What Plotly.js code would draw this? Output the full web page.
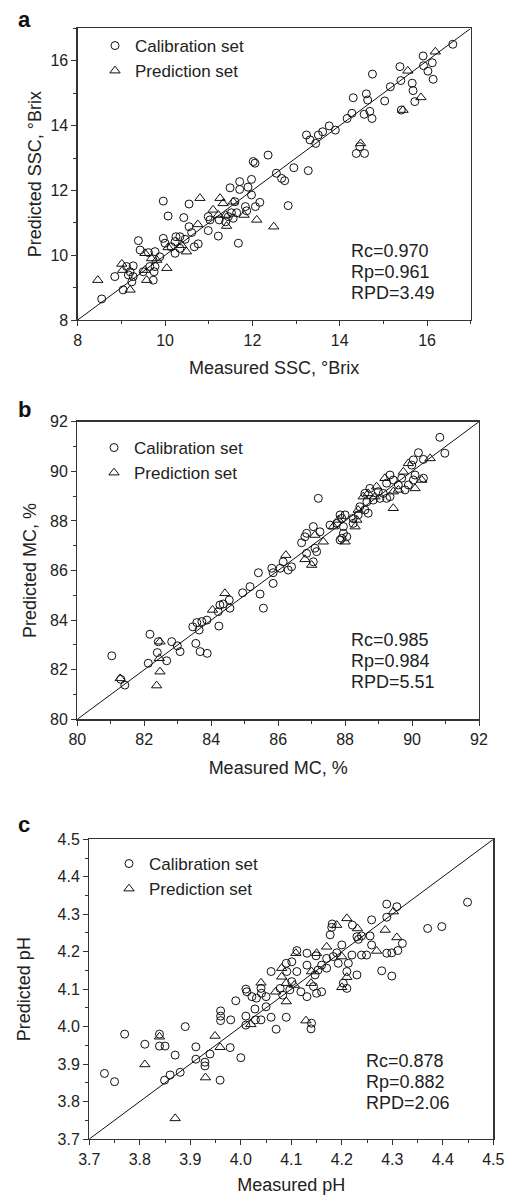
<!DOCTYPE html>
<html>
<head>
<meta charset="utf-8">
<script src="https://cdn.plot.ly/plotly-3.0.1.min.js"></script>
<style>html,body{margin:0;padding:0;background:#fff;}#chart{width:508px;height:1195px;}</style>
</head>
<body>
<div id="chart"></div>
<script>
// ---------- Panel a: SSC (°Brix) ----------
const sscCalX = [16.59,15.91,16.12,15.92,16.02,16.14,15.38,14.75,15.40,15.66,15.68,15.16,15.72,14.31,14.61,14.64,15.03,15.41,14.56,14.69,14.74,14.28,14.17,13.90,13.76,13.61,13.51,13.24,13.32,13.45,14.46,14.38,14.57,12.36,12.02,12.06,12.55,12.67,12.74,12.95,13.28,11.98,11.71,11.49,11.71,11.90,11.98,12.17,12.07,11.84,11.87,12.82,11.56,11.64,11.52,11.60,10.55,9.96,10.07,10.43,10.99,11.03,11.24,11.45,11.39,10.99,11.22,11.68,10.55,10.61,10.76,10.67,10.34,10.25,10.34,10.46,10.23,9.96,10.00,10.14,10.23,9.39,9.43,9.62,9.77,9.88,9.77,9.65,9.75,9.50,9.12,9.27,9.20,9.16,9.27,8.85,9.24,9.04,9.73,8.55];
const sscCalY = [16.51,16.15,15.94,15.85,15.68,15.43,15.82,15.59,15.39,15.31,15.08,15.20,14.74,14.86,14.98,14.79,14.76,14.48,14.35,14.44,14.22,14.38,14.22,13.86,13.99,13.81,13.71,13.71,13.56,13.45,13.35,13.14,13.14,13.09,12.89,12.84,12.53,12.37,12.30,12.70,12.61,12.34,12.27,12.08,12.03,12.10,11.86,11.63,11.50,11.50,11.37,11.53,11.14,11.31,11.31,11.65,11.58,11.67,11.21,11.16,11.19,11.09,11.09,11.19,11.03,10.76,10.59,10.37,10.88,10.70,10.35,10.26,10.21,10.57,10.57,10.49,10.42,10.52,10.37,10.26,10.06,10.45,10.16,10.08,10.11,9.95,9.65,9.65,9.49,9.49,9.65,9.67,9.49,9.39,9.34,9.34,9.18,8.93,9.23,8.65];
const sscPreX = [16.19,15.56,15.86,15.45,14.48,12.49,12.10,11.81,11.56,11.26,11.33,10.80,11.10,11.22,11.39,11.41,10.75,10.49,10.38,10.07,9.54,9.69,9.81,10.04,9.54,9.01,9.03,9.20,9.58,8.46];
const sscPreY = [16.28,15.69,14.87,14.48,13.45,10.88,11.09,11.24,11.65,11.76,11.60,11.76,11.40,11.24,11.24,10.90,10.95,10.11,10.31,10.24,10.06,9.90,9.85,9.60,9.54,9.73,9.54,8.93,9.23,9.23];
const sscRange = [8, 17];
const sscStats = ['Rc=0.970', 'Rp=0.961', 'RPD=3.49'];

// ---------- Panel b: MC (%) ----------
const mcCalX = [90.83,90.98,90.19,90.34,90.04,89.99,89.34,89.44,89.69,90.09,90.04,90.34,89.89,89.79,89.59,89.24,89.34,89.14,88.99,88.74,88.59,88.84,89.04,89.24,87.20,88.65,88.44,88.59,88.69,88.39,88.24,87.85,88.00,87.90,87.75,87.55,87.95,87.95,88.05,87.90,88.24,87.05,87.25,86.80,86.85,86.70,87.85,86.15,86.40,86.30,86.06,85.81,85.85,85.41,85.85,85.46,85.56,86.85,87.10,87.05,87.15,85.16,84.94,84.54,84.36,84.26,84.56,84.21,83.87,83.72,83.57,83.45,83.64,84.23,82.17,83.54,83.67,83.88,82.42,82.82,82.99,83.07,82.39,82.67,82.12,81.03,81.42,81.30];
const mcCalY = [91.37,90.73,90.75,90.48,90.46,90.25,89.85,89.65,89.72,89.85,89.65,89.72,89.45,89.25,89.45,89.52,88.98,89.11,89.18,89.31,89.11,88.84,88.91,88.91,88.91,88.77,88.57,88.44,88.31,88.24,88.10,88.24,88.24,88.10,87.90,87.83,87.77,87.50,87.36,87.30,87.90,87.77,87.56,87.36,87.50,87.12,87.23,86.35,86.15,86.02,86.09,86.09,85.91,85.91,85.48,85.05,84.48,86.69,86.90,86.35,86.76,85.35,85.10,84.81,84.65,84.61,84.48,84.34,84.00,83.94,83.90,83.73,83.60,83.76,83.43,83.06,82.73,82.66,83.13,83.13,82.96,82.73,82.69,82.36,82.26,82.56,81.38,81.61];
const mcPreX = [90.54,89.89,89.74,90.29,90.09,89.59,89.19,89.44,88.94,88.69,88.54,88.89,89.44,88.39,88.35,87.80,87.65,88.00,88.30,87.10,87.35,86.23,86.80,87.00,84.41,84.04,82.47,82.45,82.47,81.28,82.37];
const mcPreY = [90.52,90.32,89.98,89.65,89.31,89.25,89.72,89.18,89.38,89.11,88.98,88.98,88.51,88.44,88.04,88.04,87.77,87.16,87.77,87.43,87.16,86.62,86.45,86.22,85.08,84.41,83.13,82.46,81.92,81.65,81.36];
const mcRange = [80, 92];
const mcStats = ['Rc=0.985', 'Rp=0.984', 'RPD=5.51'];

// ---------- Panel c: pH ----------
const phCalX = [4.449,4.370,4.398,4.289,4.309,4.289,4.259,4.221,4.181,4.180,4.177,4.230,4.239,4.256,4.320,4.311,4.299,4.289,4.279,4.299,4.230,4.249,4.239,4.220,4.213,4.210,4.203,4.210,4.233,4.259,4.200,4.190,4.183,4.193,4.149,4.131,4.111,4.170,4.160,4.170,4.153,4.147,4.131,4.111,4.101,4.090,4.091,4.101,4.060,4.144,4.160,4.150,4.131,4.119,4.097,4.078,4.083,4.040,4.010,4.012,4.022,4.031,4.041,4.050,3.990,4.050,4.028,4.010,4.029,4.040,4.060,4.090,4.070,4.010,4.140,4.139,3.960,3.960,3.960,3.980,3.890,3.839,3.770,3.810,3.839,3.850,3.870,3.911,3.979,3.911,3.929,3.929,3.939,4.000,3.730,3.750,3.849,3.860,3.880,3.959];
const phCalY = [4.332,4.262,4.267,4.327,4.320,4.292,4.285,4.271,4.274,4.265,4.245,4.240,4.242,4.242,4.222,4.203,4.197,4.196,4.149,4.135,4.138,4.191,4.191,4.191,4.169,4.147,4.116,4.102,4.233,4.218,4.218,4.197,4.187,4.169,4.189,4.196,4.203,4.182,4.164,4.156,4.151,4.138,4.164,4.147,4.173,4.169,4.147,4.120,4.147,4.107,4.093,4.089,4.080,4.093,4.098,4.102,4.084,4.102,4.100,4.093,4.080,4.076,4.089,4.080,4.069,4.053,4.047,4.028,4.018,4.018,4.025,4.025,3.993,4.004,4.009,3.994,4.042,4.028,4.016,4.018,4.000,3.980,3.980,3.953,3.948,3.948,3.924,3.946,3.944,3.913,3.905,3.895,3.927,3.917,3.875,3.853,3.857,3.871,3.878,3.857];
const phPreX = [4.302,4.286,4.309,4.210,4.231,4.190,4.269,4.200,4.210,4.200,4.170,4.150,4.109,4.140,4.081,4.081,4.090,4.139,4.106,4.069,4.090,4.040,4.020,4.129,3.839,3.949,3.959,3.810,3.930,3.870];
const phPreY = [4.307,4.258,4.238,4.289,4.262,4.271,4.202,4.187,4.132,4.105,4.213,4.196,4.196,4.147,4.156,4.133,4.116,4.116,4.111,4.093,4.067,4.117,4.006,4.016,3.973,3.975,3.945,3.899,3.864,3.755];
const phRange = [3.7, 4.5];
const phStats = ['Rc=0.878', 'Rp=0.882', 'RPD=2.06'];

const seriesNames = ['Calibration set', 'Prediction set'];
const panelLabels = ['a', 'b', 'c'];

// ---------- styling ----------
const FONT = 'Arial, "Liberation Sans", Helvetica, sans-serif';
const INK = '#111';
const AXC = '#333';
const W = 508, H = 1195;

function calTrace(x, y, xa, ya, leg) {
  return {type:'scatter', mode:'markers', x:x, y:y, xaxis:xa, yaxis:ya, name:seriesNames[0], legend:leg,
    marker:{symbol:'circle-open', size:8, color:INK, line:{width:1, color:INK}}, cliponaxis:false};
}
function preTrace(x, y, xa, ya, leg) {
  return {type:'scatter', mode:'markers', x:x, y:y, xaxis:xa, yaxis:ya, name:seriesNames[1], legend:leg,
    marker:{symbol:'triangle-up-open', size:9, color:INK, line:{width:1, color:INK}}, cliponaxis:false};
}
function diag(r, xa, ya) {
  return {type:'scatter', mode:'lines', x:r, y:r, xaxis:xa, yaxis:ya, showlegend:false, hoverinfo:'skip',
    line:{color:INK, width:1}};
}

const traces = [
  diag(sscRange, 'x', 'y'),
  calTrace(sscCalX, sscCalY, 'x', 'y', 'legend'),
  preTrace(sscPreX, sscPreY, 'x', 'y', 'legend'),
  diag(mcRange, 'x2', 'y2'),
  calTrace(mcCalX, mcCalY, 'x2', 'y2', 'legend2'),
  preTrace(mcPreX, mcPreY, 'x2', 'y2', 'legend2'),
  diag(phRange, 'x3', 'y3'),
  calTrace(phCalX, phCalY, 'x3', 'y3', 'legend3'),
  preTrace(phPreX, phPreY, 'x3', 'y3', 'legend3')
];

function px(v) { return v / W; }
function py(v) { return 1 - v / H; }

function axis(dom, range, dtick, minor, title, anchor, standoff, fmt) {
  return {
    domain: dom, range: range, anchor: anchor, autorange: false,
    showline: true, mirror: true, linecolor: AXC, linewidth: 1.3,
    showgrid: false, zeroline: false,
    ticks: 'outside', ticklen: 5, tickwidth: 1, tickcolor: AXC,
    tick0: range[0], dtick: dtick, tickformat: fmt || '',
    minor: {ticks: 'outside', ticklen: 3, tickwidth: 1, tickcolor: AXC, dtick: minor, tick0: range[0], showgrid: false},
    tickfont: {family: FONT, size: 16, color: '#222'},
    title: {text: title, standoff: standoff, font: {family: FONT, size: 18, color: '#222'}}
  };
}

// panel pixel boxes [left, right, top, bottom]
const boxA = [77.7, 470.7, 28.4, 320];
const boxB = [77.3, 479, 421.7, 719.3];
const boxC = [89.3, 493.3, 839.3, 1139];
function xd(b) { return [px(b[0]), px(b[1])]; }
function yd(b) { return [py(b[3]), py(b[2])]; }

function legendAt(xpx, ytop) {
  return {x: px(xpx), xanchor: 'left', y: py(ytop), yanchor: 'top', bgcolor: 'rgba(0,0,0,0)',
    borderwidth: 0, itemwidth: 30, tracegroupgap: 0,
    font: {family: FONT, size: 17, color: '#222'}};
}

const annotations = [];
function stats(lines, xa, ya, xfrac, yfracs) {
  lines.forEach(function (t, i) {
    annotations.push({text: t, xref: xa + ' domain', yref: ya + ' domain', x: xfrac, y: yfracs[i],
      xanchor: 'left', yanchor: 'middle', showarrow: false,
      font: {family: FONT, size: 18, color: '#222'}});
  });
}
stats(sscStats, 'x', 'y', 0.690, [0.2366, 0.1646, 0.0926]);
stats(mcStats, 'x2', 'y2', 0.676, [0.2665, 0.196, 0.1253]);
stats(phStats, 'x3', 'y3', 0.680, [0.260, 0.190, 0.120]);

const labelPos = [[24, 19], [24, 409], [24, 824]];
panelLabels.forEach(function (t, i) {
  annotations.push({text: '<b>' + t + '</b>', xref: 'paper', yref: 'paper', x: px(labelPos[i][0]), y: py(labelPos[i][1]),
    xanchor: 'center', yanchor: 'middle', showarrow: false,
    font: {family: FONT, size: 22, color: '#111'}});
});

const layout = {
  width: W, height: H,
  margin: {l: 0, r: 0, t: 0, b: 0},
  paper_bgcolor: '#fff', plot_bgcolor: '#fff',
  font: {family: FONT, color: '#222'},
  showlegend: true,
  xaxis: axis(xd(boxA), sscRange, 2, 1, 'Measured SSC, °Brix', 'y', 14),
  yaxis: axis(yd(boxA), sscRange, 2, 1, 'Predicted SSC, °Brix', 'x', 4),
  xaxis2: axis(xd(boxB), mcRange, 2, 1, 'Measured MC, %', 'y2', 14),
  yaxis2: axis(yd(boxB), mcRange, 2, 1, 'Predicted MC, %', 'x2', 8),
  xaxis3: axis(xd(boxC), phRange, 0.1, 0.05, 'Measured pH', 'y3', 14, '.1f'),
  yaxis3: axis(yd(boxC), phRange, 0.1, 0.05, 'Predicted pH', 'x3', 22, '.1f'),
  legend: legendAt(95, 28),
  legend2: legendAt(94, 430),
  legend3: legendAt(109, 846),
  annotations: annotations
};

Plotly.newPlot('chart', traces, layout, {displayModeBar: false, staticPlot: true});
</script>
</body>
</html>
